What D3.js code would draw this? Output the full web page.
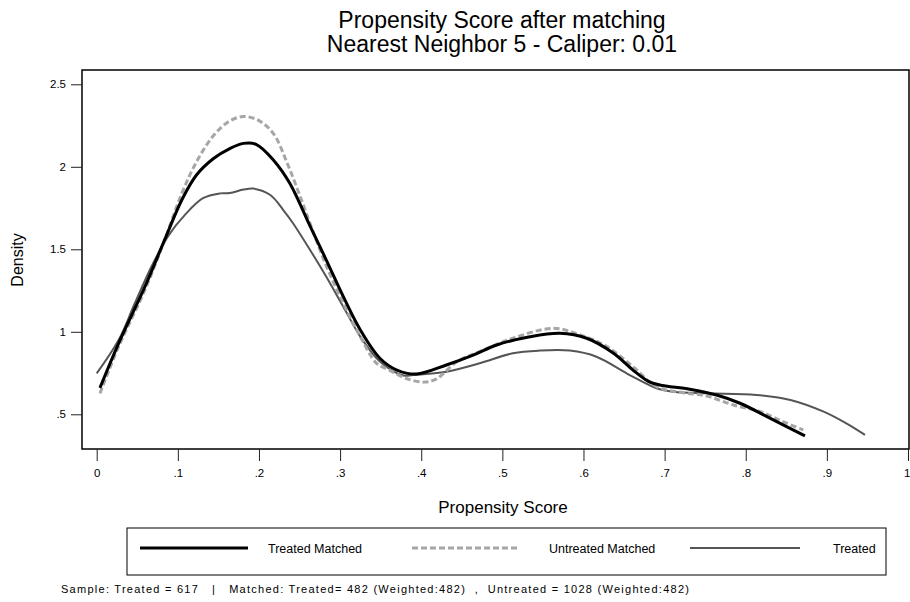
<!DOCTYPE html>
<html><head><meta charset="utf-8">
<script src="https://cdn.jsdelivr.net/npm/d3@7"></script>
<style>body{margin:0;background:#fff}svg{display:block;font-family:"Liberation Sans",Arial,sans-serif}</style>
</head><body><svg id="c" width="910" height="602"></svg>
<script>
const titleLines = ["Propensity Score after matching", "Nearest Neighbor 5 - Caliper: 0.01"];
const xTicks = [0, .1, .2, .3, .4, .5, .6, .7, .8, .9, 1];
const xTickLabels = ["0", ".1", ".2", ".3", ".4", ".5", ".6", ".7", ".8", ".9", "1"];
const yTicks = [.5, 1, 1.5, 2, 2.5];
const yTickLabels = [".5", "1", "1.5", "2", "2.5"];
const seriesNames = ["Treated Matched", "Untreated Matched", "Treated"];
const treatedMatched = [[.004,.66],[.027,.93],[.06,1.28],[.084,1.56],[.105,1.80],[.123,1.95],[.144,2.05],[.164,2.11],[.181,2.142],[.197,2.135],[.218,2.04],[.238,1.90],[.263,1.64],[.283,1.435],[.304,1.213],[.325,1.011],[.349,.84],[.370,.768],[.394,.744],[.431,.799],[.464,.859],[.493,.92],[.534,.970],[.571,.991],[.604,.961],[.637,.870],[.661,.768],[.680,.70],[.694,.678],[.731,.652],[.764,.617],[.793,.567],[.834,.466],[.873,.369]];
const untreatedMatched = [[.004,.627],[.027,.91],[.06,1.26],[.084,1.56],[.105,1.84],[.123,2.03],[.144,2.19],[.163,2.275],[.181,2.305],[.20,2.28],[.218,2.20],[.235,2.02],[.25,1.83],[.265,1.63],[.283,1.40],[.304,1.173],[.325,.97],[.345,.809],[.36,.77],[.38,.72],[.403,.695],[.419,.715],[.444,.819],[.472,.880],[.513,.961],[.563,1.021],[.596,.981],[.629,.910],[.661,.789],[.690,.667],[.723,.631],[.752,.611],[.785,.556],[.818,.516],[.846,.455],[.871,.405]];
const treated = [[0,.748],[.027,.95],[.047,1.173],[.068,1.40],[.088,1.58],[.109,1.71],[.131,1.81],[.152,1.839],[.164,1.841],[.181,1.862],[.193,1.868],[.214,1.829],[.230,1.738],[.242,1.658],[.263,1.496],[.283,1.334],[.304,1.152],[.325,.970],[.349,.82],[.378,.735],[.390,.738],[.431,.758],[.472,.809],[.513,.870],[.546,.886],[.583,.886],[.616,.849],[.657,.738],[.690,.658],[.711,.637],[.752,.627],[.813,.617],[.855,.587],[.896,.516],[.924,.445],[.947,.375]];
const footnote = "Sample: Treated = 617   |   Matched: Treated= 482 (Weighted:482)  ,  Untreated = 1028 (Weighted:482)";

const svg = d3.select("#c");
const frame = {l: 82, t: 70, r: 909, b: 449};
const x = d3.scaleLinear().domain([0, 1]).range([96.7, 908]);
const y = d3.scaleLinear().domain([.5, 2.5]).range([414.3, 84.3]);

// title
svg.append("g").selectAll("text").data(titleLines).join("text")
  .attr("x", 502).attr("y", (d, i) => 28 + i * 24)
  .attr("text-anchor", "middle").attr("font-size", 23).attr("fill", "#000").text(d => d);

// frame
svg.append("rect").attr("x", frame.l).attr("y", frame.t)
  .attr("width", frame.r - frame.l).attr("height", frame.b - frame.t)
  .attr("fill", "none").attr("stroke", "#000").attr("stroke-width", 1.5);

// axes
const yAxis = d3.axisLeft(y).tickValues(yTicks).tickFormat((d, i) => yTickLabels[i]).tickSize(11).tickPadding(5);
const gy = svg.append("g").attr("transform", `translate(${frame.l},0)`).call(yAxis);
gy.select(".domain").remove();
gy.selectAll("line").attr("stroke", "#222");
gy.selectAll("text").attr("font-size", 11.5).attr("font-family", "Liberation Sans, Arial").attr("fill", "#000");

const xAxis = d3.axisBottom(x).tickValues(xTicks).tickFormat((d, i) => xTickLabels[i]).tickSize(12).tickPadding(8);
const gx = svg.append("g").attr("transform", `translate(0,${frame.b})`).call(xAxis);
gx.select(".domain").remove();
gx.selectAll("line").attr("stroke", "#222");
gx.selectAll("text").attr("font-size", 11.5).attr("font-family", "Liberation Sans, Arial").attr("fill", "#000");
gx.selectAll("text").filter(d => d === 1).attr("text-anchor", "end").attr("x", 2);

// axis titles
svg.append("text").attr("x", 503).attr("y", 513).attr("text-anchor", "middle")
  .attr("font-size", 17).text("Propensity Score");
svg.append("text").attr("transform", "translate(23,260) rotate(-90)").attr("text-anchor", "middle")
  .attr("font-size", 16).text("Density");

// lines
const styles = [
  {data: treatedMatched, color: "#000", width: 3, dash: null},
  {data: untreatedMatched, color: "#a6a6a6", width: 3, dash: "6,3"},
  {data: treated, color: "#555", width: 2, dash: null}
];
const line = d3.line().x(d => x(d[0])).y(d => y(d[1])).curve(d3.curveCatmullRom.alpha(0.5));
const drawOrder = [2, 1, 0];
drawOrder.forEach(i => {
  const s = styles[i];
  svg.append("path").attr("d", line(s.data)).attr("fill", "none")
    .attr("stroke", s.color).attr("stroke-width", s.width)
    .attr("stroke-dasharray", s.dash).attr("stroke-linejoin", "round");
});

// legend
svg.append("rect").attr("x", 127).attr("y", 528).attr("width", 759).attr("height", 47)
  .attr("fill", "none").attr("stroke", "#000").attr("stroke-width", 1);
const legX = [[140, 248, 268], [412, 518, 549], [690, 800, 833]];
seriesNames.forEach((n, i) => {
  const s = styles[i];
  svg.append("line").attr("x1", legX[i][0]).attr("x2", legX[i][1]).attr("y1", 548).attr("y2", 548)
    .attr("stroke", s.color).attr("stroke-width", s.width).attr("stroke-dasharray", s.dash);
  svg.append("text").attr("x", legX[i][2]).attr("y", 552.5).attr("font-size", 12.5).text(n);
});

// footnote
svg.append("text").attr("x", 61).attr("y", 593).attr("font-size", 11)
  .attr("textLength", 628).attr("lengthAdjust", "spacing")
  .style("white-space", "pre").text(footnote);
</script></body></html>
